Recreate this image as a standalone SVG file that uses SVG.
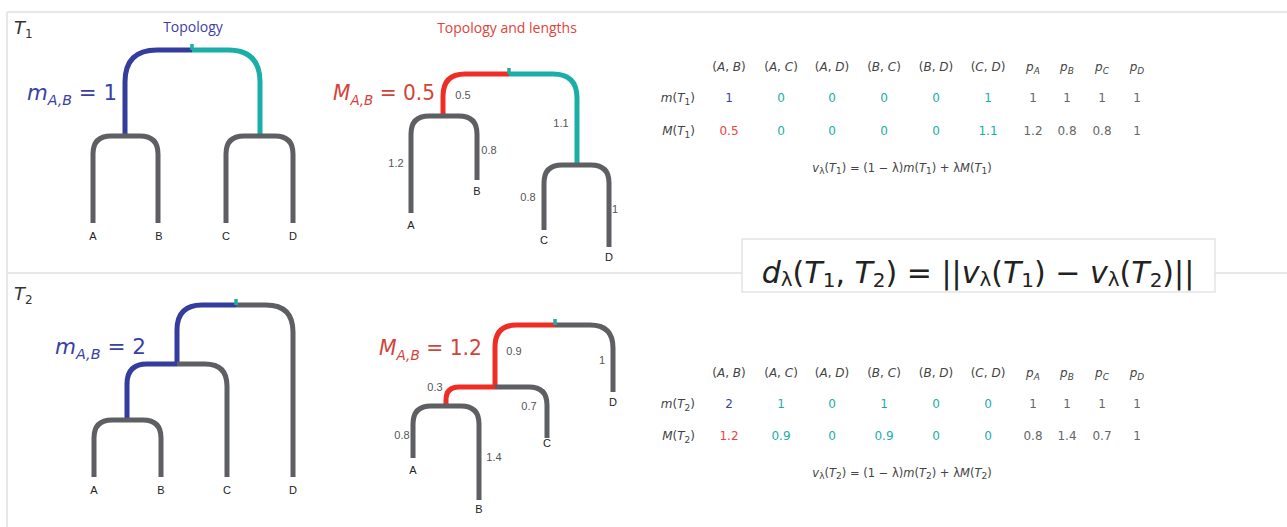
<svg xmlns="http://www.w3.org/2000/svg" width="1287" height="527" viewBox="0 0 1287 527">
<style>
.frame{stroke:#e6e7e7;stroke-width:2;fill:none}
.br{fill:none;stroke-width:5;stroke-linecap:butt}
.g{stroke:#5e5f62}
.b{stroke:#343c9e}
.t{stroke:#1aaea8}
.r{stroke:#ee2d24}
.tick{stroke:#1aaea8;stroke-width:3.5}
.leaf{font-family:"Liberation Sans",Arial,sans-serif;font-size:11px;fill:#222;text-anchor:middle}
.len{font-family:"Liberation Sans",Arial,sans-serif;font-size:11px;fill:#555;text-anchor:middle}
.math{font-family:"DejaVu Sans","Open Sans",sans-serif}
.i{font-style:italic}
.tab{font-family:"DejaVu Sans",sans-serif;font-size:12px;text-anchor:middle;fill:#444}
.tb{fill:#3b3fa6}.tt{fill:#1aaea8}.tr{fill:#e8463c}.tg{fill:#666}
</style>

<g id="frame">
<line class="frame" x1="7" y1="12" x2="1287" y2="12"/>
<line class="frame" x1="7" y1="12" x2="7" y2="527"/>
<line class="frame" x1="7" y1="273" x2="742" y2="273"/>
<line class="frame" x1="1215" y1="273" x2="1287" y2="273"/>
</g>

<g id="labels">
<text x="14" y="34" class="math i" font-size="18" fill="#333">T<tspan font-size="12" dy="4" font-style="normal">1</tspan></text>
<text x="14" y="300" class="math i" font-size="18" fill="#333">T<tspan font-size="12" dy="4" font-style="normal">2</tspan></text>
<text x="193" y="32" font-family="Open Sans,DejaVu Sans,sans-serif" font-size="14" fill="#3c41a5" text-anchor="middle">Topology</text>
<text x="507" y="33" font-family="Open Sans,DejaVu Sans,sans-serif" font-size="14" fill="#e0433a" text-anchor="middle">Topology and lengths</text>
</g>

<g id="tree-T1-topology">
<path class="br b" d="M125,136 V82 Q125,50 157,50 H192"/>
<path class="br t" d="M192,50 H228 Q260,50 260,82 V136"/>
<line class="tick" x1="192" y1="44" x2="192" y2="50"/>
<path class="br g" d="M93,223 V154 Q93,136 111,136 H140 Q158,136 158,154 V223"/>
<path class="br g" d="M226,223 V154 Q226,136 244,136 H275 Q293,136 293,154 V223"/>
<text class="leaf" x="93" y="240">A</text>
<text class="leaf" x="159" y="240">B</text>
<text class="leaf" x="226" y="240">C</text>
<text class="leaf" x="293" y="240">D</text>
<text x="27" y="100" class="math" font-size="21" fill="#3b3fa6" textLength="90" lengthAdjust="spacingAndGlyphs"><tspan class="i">m</tspan><tspan class="i" font-size="14" dy="5">A,B</tspan><tspan dy="-5"> = 1</tspan></text>
</g>

<g id="tree-T1-lengths">
<path class="br r" d="M443,116 V96 Q443,74 465,74 H509"/>
<path class="br t" d="M509,74 H553 Q577,74 577,98 V165"/>
<line class="tick" x1="509" y1="68" x2="509" y2="74"/>
<path class="br g" d="M411,213 V134 Q411,116 429,116 H459 Q477,116 477,134 V180"/>
<path class="br g" d="M544,230 V183 Q544,165 562,165 H591 Q609,165 609,183 V247"/>
<text class="leaf" x="411" y="229">A</text>
<text class="leaf" x="477" y="195">B</text>
<text class="leaf" x="544" y="244">C</text>
<text class="leaf" x="609" y="261">D</text>
<text class="len" x="463" y="99">0.5</text>
<text class="len" x="561" y="127">1.1</text>
<text class="len" x="396" y="167">1.2</text>
<text class="len" x="489" y="154">0.8</text>
<text class="len" x="528" y="201">0.8</text>
<text class="len" x="615" y="213">1</text>
<text x="333" y="100" class="math" font-size="21" fill="#d4433a" textLength="102" lengthAdjust="spacingAndGlyphs"><tspan class="i">M</tspan><tspan class="i" font-size="14" dy="5">A,B</tspan><tspan dy="-5"> = 0.5</tspan></text>
</g>

<g id="tree-T2-topology">
<path class="br b" d="M127,420 V384 Q127,364 147,364 H177"/>
<path class="br b" d="M177,364 V330 Q177,305 202,305 H236"/>
<path class="br g" d="M236,305 H266 Q293,305 293,332 V477"/>
<path class="br g" d="M177,364 H205 Q227,364 227,386 V477"/>
<path class="br g" d="M94,477 V438 Q94,420 112,420 H143 Q161,420 161,438 V477"/>
<line class="tick" x1="236" y1="299" x2="236" y2="305"/>
<text class="leaf" x="94" y="494">A</text>
<text class="leaf" x="161" y="494">B</text>
<text class="leaf" x="227" y="494">C</text>
<text class="leaf" x="293" y="494">D</text>
<text x="55" y="354" class="math" font-size="21" fill="#3b3fa6" textLength="91" lengthAdjust="spacingAndGlyphs"><tspan class="i">m</tspan><tspan class="i" font-size="14" dy="5">A,B</tspan><tspan dy="-5"> = 2</tspan></text>
</g>

<g id="tree-T2-lengths">
<path class="br r" d="M446,406 V400 Q446,387 459,387 H495"/>
<path class="br r" d="M495,387 V347 Q495,325 517,325 H555"/>
<path class="br g" d="M495,387 H529 Q547,387 547,405 V438"/>
<path class="br g" d="M555,325 H590 Q613,325 613,348 V392"/>
<path class="br g" d="M413,458 V424 Q413,406 431,406 H461 Q479,406 479,424 V500"/>
<line class="tick" x1="555" y1="319" x2="555" y2="325"/>
<text class="leaf" x="413" y="474">A</text>
<text class="leaf" x="479" y="513">B</text>
<text class="leaf" x="547" y="447">C</text>
<text class="leaf" x="613" y="406">D</text>
<text class="len" x="514" y="355">0.9</text>
<text class="len" x="602" y="364">1</text>
<text class="len" x="435" y="391">0.3</text>
<text class="len" x="529" y="410">0.7</text>
<text class="len" x="402" y="439">0.8</text>
<text class="len" x="494" y="461">1.4</text>
<text x="379" y="355" class="math" font-size="21" fill="#d4433a" textLength="103" lengthAdjust="spacingAndGlyphs"><tspan class="i">M</tspan><tspan class="i" font-size="14" dy="5">A,B</tspan><tspan dy="-5"> = 1.2</tspan></text>
</g>

<g id="table-T1" class="tab">
<text x="729" y="71">(<tspan class="i">A</tspan>, <tspan class="i">B</tspan>)</text>
<text x="781" y="71">(<tspan class="i">A</tspan>, <tspan class="i">C</tspan>)</text>
<text x="832" y="71">(<tspan class="i">A</tspan>, <tspan class="i">D</tspan>)</text>
<text x="884" y="71">(<tspan class="i">B</tspan>, <tspan class="i">C</tspan>)</text>
<text x="936" y="71">(<tspan class="i">B</tspan>, <tspan class="i">D</tspan>)</text>
<text x="988" y="71">(<tspan class="i">C</tspan>, <tspan class="i">D</tspan>)</text>
<text x="1033" y="71" class="i">p<tspan font-size="9" dy="3">A</tspan></text>
<text x="1067" y="71" class="i">p<tspan font-size="9" dy="3">B</tspan></text>
<text x="1102" y="71" class="i">p<tspan font-size="9" dy="3">C</tspan></text>
<text x="1137" y="71" class="i">p<tspan font-size="9" dy="3">D</tspan></text>
<text x="695" y="102" text-anchor="end"><tspan class="i">m</tspan>(<tspan class="i">T</tspan><tspan font-size="9" dy="3">1</tspan><tspan dy="-3">)</tspan></text>
<text x="729" y="102" class="tb">1</text>
<text x="781" y="102" class="tt">0</text>
<text x="832" y="102" class="tt">0</text>
<text x="884" y="102" class="tt">0</text>
<text x="936" y="102" class="tt">0</text>
<text x="988" y="102" class="tt">1</text>
<text x="1033" y="102" class="tg">1</text>
<text x="1067" y="102" class="tg">1</text>
<text x="1102" y="102" class="tg">1</text>
<text x="1137" y="102" class="tg">1</text>
<text x="695" y="135" text-anchor="end"><tspan class="i">M</tspan>(<tspan class="i">T</tspan><tspan font-size="9" dy="3">1</tspan><tspan dy="-3">)</tspan></text>
<text x="729" y="135" class="tr">0.5</text>
<text x="781" y="135" class="tt">0</text>
<text x="832" y="135" class="tt">0</text>
<text x="884" y="135" class="tt">0</text>
<text x="936" y="135" class="tt">0</text>
<text x="988" y="135" class="tt">1.1</text>
<text x="1033" y="135" class="tg">1.2</text>
<text x="1067" y="135" class="tg">0.8</text>
<text x="1102" y="135" class="tg">0.8</text>
<text x="1137" y="135" class="tg">1</text>
<text x="902" y="172" font-size="11.5"><tspan class="i">v</tspan><tspan font-size="9" dy="2">λ</tspan><tspan dy="-2">(</tspan><tspan class="i">T</tspan><tspan font-size="9" dy="2">1</tspan><tspan dy="-2">) = (1 − λ)</tspan><tspan class="i">m</tspan>(<tspan class="i">T</tspan><tspan font-size="9" dy="2">1</tspan><tspan dy="-2">) + λ</tspan><tspan class="i">M</tspan>(<tspan class="i">T</tspan><tspan font-size="9" dy="2">1</tspan><tspan dy="-2">)</tspan></text>
</g>

<g id="table-T2" class="tab">
<text x="729" y="377">(<tspan class="i">A</tspan>, <tspan class="i">B</tspan>)</text>
<text x="781" y="377">(<tspan class="i">A</tspan>, <tspan class="i">C</tspan>)</text>
<text x="832" y="377">(<tspan class="i">A</tspan>, <tspan class="i">D</tspan>)</text>
<text x="884" y="377">(<tspan class="i">B</tspan>, <tspan class="i">C</tspan>)</text>
<text x="936" y="377">(<tspan class="i">B</tspan>, <tspan class="i">D</tspan>)</text>
<text x="988" y="377">(<tspan class="i">C</tspan>, <tspan class="i">D</tspan>)</text>
<text x="1033" y="377" class="i">p<tspan font-size="9" dy="3">A</tspan></text>
<text x="1067" y="377" class="i">p<tspan font-size="9" dy="3">B</tspan></text>
<text x="1102" y="377" class="i">p<tspan font-size="9" dy="3">C</tspan></text>
<text x="1137" y="377" class="i">p<tspan font-size="9" dy="3">D</tspan></text>
<text x="695" y="408" text-anchor="end"><tspan class="i">m</tspan>(<tspan class="i">T</tspan><tspan font-size="9" dy="3">2</tspan><tspan dy="-3">)</tspan></text>
<text x="729" y="408" class="tb">2</text>
<text x="781" y="408" class="tt">1</text>
<text x="832" y="408" class="tt">0</text>
<text x="884" y="408" class="tt">1</text>
<text x="936" y="408" class="tt">0</text>
<text x="988" y="408" class="tt">0</text>
<text x="1033" y="408" class="tg">1</text>
<text x="1067" y="408" class="tg">1</text>
<text x="1102" y="408" class="tg">1</text>
<text x="1137" y="408" class="tg">1</text>
<text x="695" y="440" text-anchor="end"><tspan class="i">M</tspan>(<tspan class="i">T</tspan><tspan font-size="9" dy="3">2</tspan><tspan dy="-3">)</tspan></text>
<text x="729" y="440" class="tr">1.2</text>
<text x="781" y="440" class="tt">0.9</text>
<text x="832" y="440" class="tt">0</text>
<text x="884" y="440" class="tt">0.9</text>
<text x="936" y="440" class="tt">0</text>
<text x="988" y="440" class="tt">0</text>
<text x="1033" y="440" class="tg">0.8</text>
<text x="1067" y="440" class="tg">1.4</text>
<text x="1102" y="440" class="tg">0.7</text>
<text x="1137" y="440" class="tg">1</text>
<text x="902" y="477" font-size="11.5"><tspan class="i">v</tspan><tspan font-size="9" dy="2">λ</tspan><tspan dy="-2">(</tspan><tspan class="i">T</tspan><tspan font-size="9" dy="2">2</tspan><tspan dy="-2">) = (1 − λ)</tspan><tspan class="i">m</tspan>(<tspan class="i">T</tspan><tspan font-size="9" dy="2">2</tspan><tspan dy="-2">) + λ</tspan><tspan class="i">M</tspan>(<tspan class="i">T</tspan><tspan font-size="9" dy="2">2</tspan><tspan dy="-2">)</tspan></text>
</g>

<g id="distance-formula">
<rect x="742" y="239" width="473" height="53" fill="#fff" stroke="#e4e4e4" stroke-width="1.5"/>
<text x="978" y="283" class="math" font-size="30" fill="#222" text-anchor="middle"><tspan class="i">d</tspan><tspan font-size="20" dy="3">λ</tspan><tspan dy="-3">(</tspan><tspan class="i">T</tspan><tspan font-size="20" dy="4">1</tspan><tspan dy="-4">, </tspan><tspan class="i">T</tspan><tspan font-size="20" dy="4">2</tspan><tspan dy="-4">) = ||</tspan><tspan class="i">v</tspan><tspan font-size="20" dy="3">λ</tspan><tspan dy="-3">(</tspan><tspan class="i">T</tspan><tspan font-size="20" dy="4">1</tspan><tspan dy="-4">) − </tspan><tspan class="i">v</tspan><tspan font-size="20" dy="3">λ</tspan><tspan dy="-3">(</tspan><tspan class="i">T</tspan><tspan font-size="20" dy="4">2</tspan><tspan dy="-4">)||</tspan></text>
</g>
</svg>
